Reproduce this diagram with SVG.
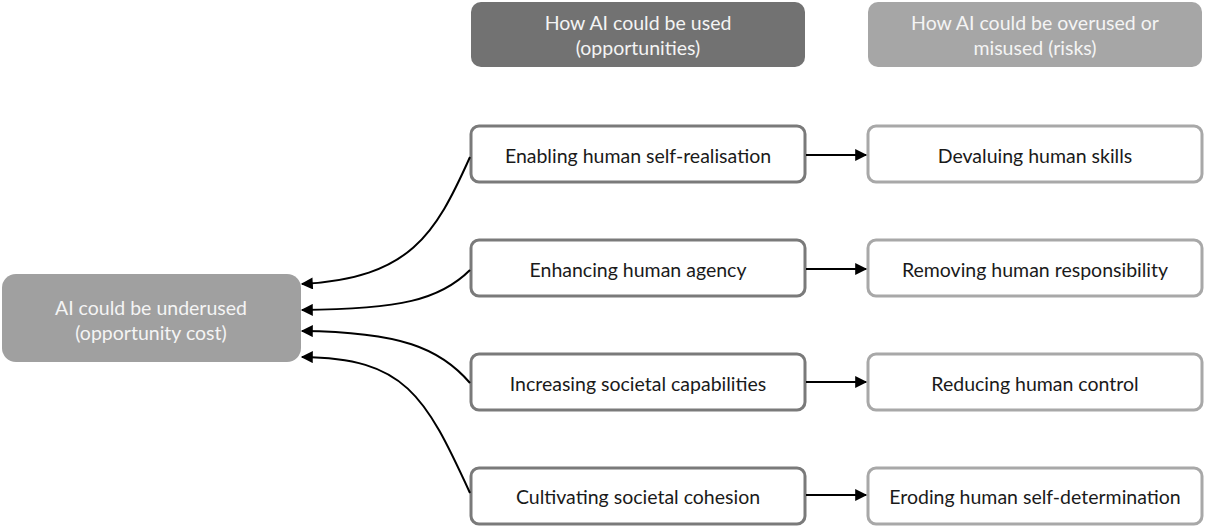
<svg xmlns="http://www.w3.org/2000/svg" width="1209" height="527" viewBox="0 0 1209 527">
<defs>
<marker id="arr" viewBox="0 0 10 10" refX="9" refY="5" markerWidth="13" markerHeight="12" markerUnits="userSpaceOnUse" orient="auto">
<path d="M0,0 L10,5 L0,10 z" fill="#000"/>
</marker>
<style>
text{font-family:"Lato","Open Sans","Liberation Sans",sans-serif;font-size:19.5px;text-anchor:middle;dominant-baseline:central}
.hdr text,.under text{fill:#f4f4f4}
.opp rect{fill:#fff;stroke:#7a7a7a;stroke-width:3}
.risk rect{fill:#fff;stroke:#a8a8a8;stroke-width:3}
.opp text,.risk text{fill:#1a1a1a}
.conn path{fill:none;stroke:#000;stroke-width:2;marker-end:url(#arr)}
</style>
</defs>
<rect width="1209" height="527" fill="#fff"/>
<g id="hdr-used" class="hdr"><rect x="471" y="2" width="334" height="65" rx="10" fill="#727272"/><text x="638" y="22">How AI could be used</text><text x="638" y="47">(opportunities)</text></g>
<g id="hdr-risks" class="hdr"><rect x="868" y="2" width="334" height="65" rx="10" fill="#a6a6a6"/><text x="1035" y="22">How AI could be overused or</text><text x="1035" y="47">misused (risks)</text></g>
<g id="underused" class="under"><rect x="2" y="274" width="299" height="88" rx="14" fill="#a0a0a0"/><text x="151" y="307">AI could be underused</text><text x="151" y="332">(opportunity cost)</text></g>
<g id="opp1" class="opp"><rect x="471" y="126" width="334" height="56" rx="8"/><text x="638" y="155">Enabling human self-realisation</text></g>
<g id="opp2" class="opp"><rect x="471" y="240" width="334" height="56" rx="8"/><text x="638" y="269">Enhancing human agency</text></g>
<g id="opp3" class="opp"><rect x="471" y="354" width="334" height="56" rx="8"/><text x="638" y="383">Increasing societal capabilities</text></g>
<g id="opp4" class="opp"><rect x="471" y="468" width="334" height="56" rx="8"/><text x="638" y="496">Cultivating societal cohesion</text></g>
<g id="risk1" class="risk"><rect x="868" y="126" width="334" height="56" rx="8"/><text x="1035" y="155">Devaluing human skills</text></g>
<g id="risk2" class="risk"><rect x="868" y="240" width="334" height="56" rx="8"/><text x="1035" y="269">Removing human responsibility</text></g>
<g id="risk3" class="risk"><rect x="868" y="354" width="334" height="56" rx="8"/><text x="1035" y="383">Reducing human control</text></g>
<g id="risk4" class="risk"><rect x="868" y="468" width="334" height="56" rx="8"/><text x="1035" y="496">Eroding human self-determination</text></g>
<g id="connectors" class="conn">
<path d="M806,155 L866,155"/>
<path d="M806,269 L866,269"/>
<path d="M806,382 L866,382"/>
<path d="M806,495 L866,495"/>
<path d="M470,157 C435,235 410,278 302,284"/>
<path d="M470,270 C440,300 400,309 302,310"/>
<path d="M470,383 C440,348 400,332 302,331"/>
<path d="M470,493 C425,395 405,358 302,357"/>
</g>
</svg>
